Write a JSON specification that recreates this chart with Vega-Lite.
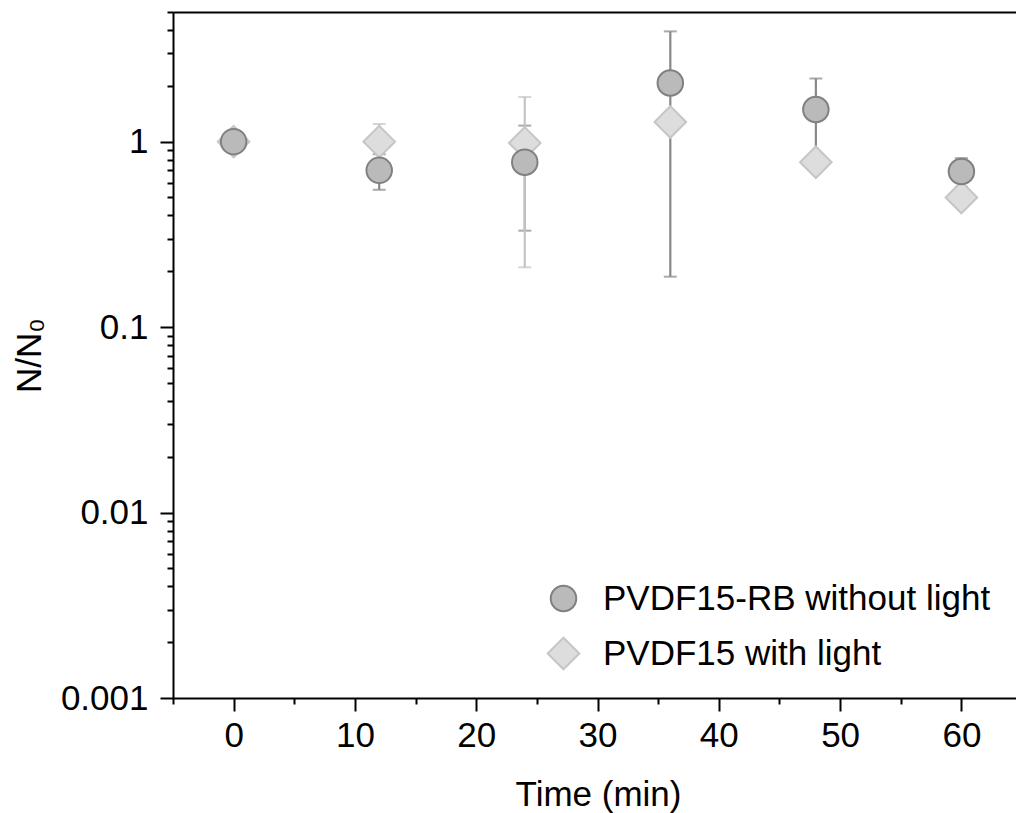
{
  "$schema": "https://vega.github.io/schema/vega-lite/v6.json",
  "width": 843,
  "height": 686,
  "autosize": {"type": "none"},
  "padding": {"left": 173, "top": 12, "right": 0, "bottom": 115},
  "config": {
    "view": {"stroke": null},
    "font": "Liberation Sans",
    "axis": {"labelFont": "Liberation Sans", "titleFont": "Liberation Sans", "labelColor": "#000", "titleColor": "#000", "domainColor": "#000", "tickColor": "#000", "grid": false}
  },
  "datasets": {
    "pts": [
      {"series": "PVDF15 with light", "t": 0, "v": 1.0, "lo": 0.95, "hi": 1.05},
      {"series": "PVDF15 with light", "t": 12, "v": 1.0, "lo": 0.755, "hi": 1.245},
      {"series": "PVDF15 with light", "t": 24, "v": 0.984, "lo": 0.21, "hi": 1.74},
      {"series": "PVDF15 with light", "t": 36, "v": 1.277, "lo": 1.18, "hi": 1.37},
      {"series": "PVDF15 with light", "t": 48, "v": 0.774, "lo": 0.72, "hi": 0.83},
      {"series": "PVDF15 with light", "t": 60, "v": 0.5, "lo": 0.46, "hi": 0.54},
      {"series": "PVDF15-RB without light", "t": 0, "v": 1.0, "lo": 0.95, "hi": 1.05},
      {"series": "PVDF15-RB without light", "t": 12, "v": 0.7, "lo": 0.55, "hi": 0.855},
      {"series": "PVDF15-RB without light", "t": 24, "v": 0.775, "lo": 0.331, "hi": 1.22},
      {"series": "PVDF15-RB without light", "t": 36, "v": 2.07, "lo": 0.187, "hi": 3.93},
      {"series": "PVDF15-RB without light", "t": 48, "v": 1.49, "lo": 0.768, "hi": 2.19},
      {"series": "PVDF15-RB without light", "t": 60, "v": 0.69, "lo": 0.57, "hi": 0.815}
    ],
    "xminor": [{"t": -5}, {"t": 5}, {"t": 15}, {"t": 25}, {"t": 35}, {"t": 45}, {"t": 55}]
  },
  "data": {"name": "pts"},
  "resolve": {"axis": {"x": "independent", "y": "independent"}},
  "layer": [
    {
      "transform": [{"filter": "datum.series == 'PVDF15-RB without light'"}],
      "mark": {"type": "errorbar", "orient": "vertical", "ticks": {"size": 13, "thickness": 2, "color": "#888888"}, "rule": {"strokeWidth": 2.2, "color": "#888888"}},
      "encoding": {
        "x": {"field": "t", "type": "quantitative",
          "scale": {"domain": [-5, 64.5], "nice": false, "zero": false},
          "axis": {"orient": "bottom", "values": [0, 10, 20, 30, 40, 50, 60], "tickSize": 13, "tickWidth": 2, "domainWidth": 2, "labelFontSize": 35, "labelPadding": 7, "title": "Time (min)", "titleFontSize": 35, "titleFontWeight": "normal", "titleX": 425, "titleY": 107, "titleBaseline": "alphabetic", "titleAnchor": "middle"}},
        "y": {"field": "lo", "type": "quantitative",
          "scale": {"type": "log", "domain": [0.001, 5], "nice": false},
          "axis": {"orient": "left", "values": [0.001, 0.01, 0.1, 1], "format": "~g", "tickSize": 13, "tickWidth": 2, "domainWidth": 2, "labelFontSize": 35, "labelPadding": 12, "title": "N/N₀", "titleFontSize": 35, "titleFontWeight": "normal", "titleX": -133, "titleY": 343, "titleAngle": -90, "titleBaseline": "alphabetic", "titleAnchor": "middle"}},
        "y2": {"field": "hi"}
      }
    },
    {
      "transform": [{"filter": "datum.series == 'PVDF15 with light'"}],
      "mark": {"type": "errorbar", "orient": "vertical", "ticks": {"size": 13, "thickness": 2, "color": "#c4c4c4"}, "rule": {"strokeWidth": 2.2, "color": "#c4c4c4"}},
      "encoding": {
        "x": {"field": "t", "type": "quantitative", "axis": null},
        "y": {"field": "lo", "type": "quantitative", "axis": null},
        "y2": {"field": "hi"}
      }
    },
    {
      "mark": {"type": "point", "filled": true, "strokeWidth": 2, "opacity": 1},
      "encoding": {
        "x": {"field": "t", "type": "quantitative", "axis": null},
        "y": {"field": "v", "type": "quantitative", "axis": null},
        "shape": {"field": "series", "type": "nominal", "scale": {"domain": ["PVDF15-RB without light", "PVDF15 with light"], "range": ["circle", "diamond"]},
          "legend": {"title": null, "orient": "none", "legendX": 373, "legendY": 569, "labelFontSize": 35, "labelFont": "Liberation Sans", "labelColor": "#000", "labelLimit": 1000, "labelOffset": 22, "rowPadding": 16, "symbolStrokeWidth": 2, "padding": 0}},
        "fill": {"field": "series", "type": "nominal", "scale": {"domain": ["PVDF15-RB without light", "PVDF15 with light"], "range": ["#bababa", "#dddddd"]}},
        "stroke": {"field": "series", "type": "nominal", "scale": {"domain": ["PVDF15-RB without light", "PVDF15 with light"], "range": ["#808080", "#c6c6c6"]}},
        "size": {"field": "series", "type": "nominal", "scale": {"domain": ["PVDF15-RB without light", "PVDF15 with light"], "range": [650, 1000]}}
      }
    },
    {
      "mark": {"type": "point", "opacity": 0},
      "encoding": {
        "x": {"field": "t", "type": "quantitative", "axis": {"orient": "top", "ticks": false, "labels": false, "domainWidth": 2, "title": null}},
        "y": {"field": "v", "type": "quantitative",
          "axis": {"orient": "left", "values": [0.002, 0.003, 0.004, 0.005, 0.006, 0.007, 0.008, 0.009, 0.02, 0.03, 0.04, 0.05, 0.06, 0.07, 0.08, 0.09, 0.2, 0.3, 0.4, 0.5, 0.6, 0.7, 0.8, 0.9, 2, 3, 4, 5], "tickSize": 6, "tickWidth": 2, "labels": false, "domain": false, "title": null}}
      }
    },
    {
      "data": {"name": "xminor"},
      "mark": {"type": "point", "opacity": 0},
      "encoding": {
        "x": {"field": "t", "type": "quantitative", "axis": {"orient": "bottom", "values": [-5, 5, 15, 25, 35, 45, 55], "tickSize": 6, "tickWidth": 2, "labels": false, "domain": false, "title": null}}
      }
    }
  ]
}
